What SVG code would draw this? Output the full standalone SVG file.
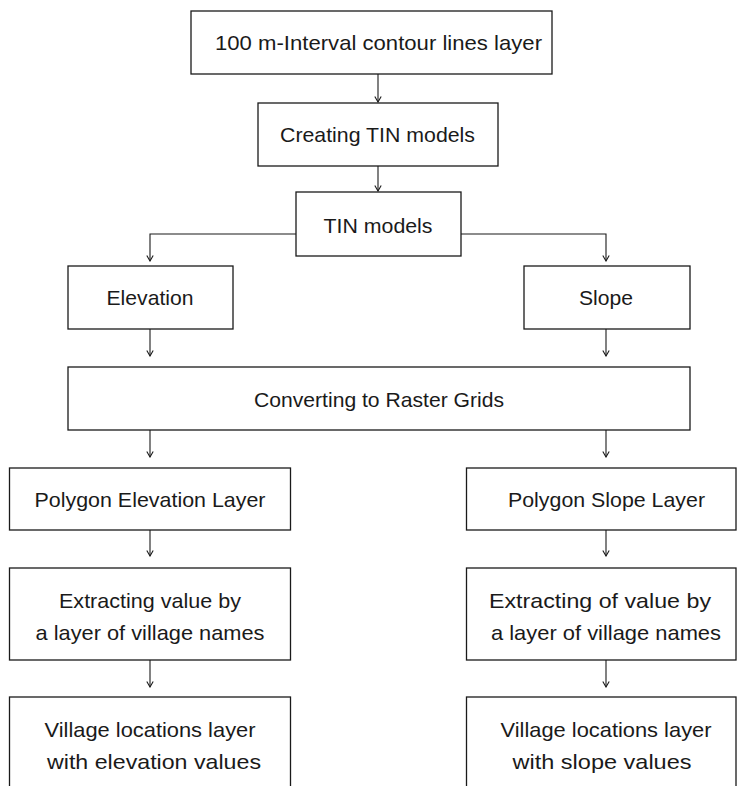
<svg xmlns="http://www.w3.org/2000/svg" width="737" height="786" viewBox="0 0 737 786">
<style>
.box{fill:#fff;stroke:#1a1a1a;stroke-width:1.3}
.t{font-family:"Liberation Sans",Arial,sans-serif;font-size:21px;fill:#1a1a1a;text-anchor:middle}
.c{fill:none;stroke:#1a1a1a;stroke-width:1.1}
</style>
<defs>
<marker id="ah" viewBox="0 0 8 8" refX="7.5" refY="4" markerWidth="8" markerHeight="8" markerUnits="userSpaceOnUse" orient="auto">
<path d="M2,0.8 L7.5,4 L2,7.2" fill="none" stroke="#1a1a1a" stroke-width="1.1"/>
</marker>
</defs>
<rect width="737" height="786" fill="#fff"/>
<g id="connectors">
<path class="c" d="M378,74 V102" marker-end="url(#ah)"/>
<path class="c" d="M378,166 V191" marker-end="url(#ah)"/>
<path class="c" d="M296,234 H150 V261" marker-end="url(#ah)"/>
<path class="c" d="M461,234 H606 V261" marker-end="url(#ah)"/>
<path class="c" d="M150,329 V356" marker-end="url(#ah)"/>
<path class="c" d="M606,329 V356" marker-end="url(#ah)"/>
<path class="c" d="M150,430 V457" marker-end="url(#ah)"/>
<path class="c" d="M606,430 V457" marker-end="url(#ah)"/>
<path class="c" d="M150,530 V556" marker-end="url(#ah)"/>
<path class="c" d="M606,530 V556" marker-end="url(#ah)"/>
<path class="c" d="M150,660 V687" marker-end="url(#ah)"/>
<path class="c" d="M606,660 V687" marker-end="url(#ah)"/>
</g>
<g id="n-contour">
<rect class="box" x="191" y="11" width="361" height="63"/>
<text class="t" x="378.5" y="50" textLength="327" lengthAdjust="spacingAndGlyphs">100 m-Interval contour lines layer</text>
</g>
<g id="n-creating">
<rect class="box" x="258" y="103" width="240" height="63"/>
<text class="t" x="377.5" y="142" textLength="195" lengthAdjust="spacingAndGlyphs">Creating TIN models</text>
</g>
<g id="n-tin">
<rect class="box" x="296" y="192" width="165" height="64"/>
<text class="t" x="378" y="233" textLength="109" lengthAdjust="spacingAndGlyphs">TIN models</text>
</g>
<g id="n-elevation">
<rect class="box" x="68" y="266" width="165" height="63"/>
<text class="t" x="150" y="305" textLength="87" lengthAdjust="spacingAndGlyphs">Elevation</text>
</g>
<g id="n-slope">
<rect class="box" x="524" y="266" width="166" height="63"/>
<text class="t" x="606" y="305" textLength="54" lengthAdjust="spacingAndGlyphs">Slope</text>
</g>
<g id="n-raster">
<rect class="box" x="68" y="367" width="622" height="63"/>
<text class="t" x="379" y="407" textLength="250" lengthAdjust="spacingAndGlyphs">Converting to Raster Grids</text>
</g>
<g id="n-poly-elev">
<rect class="box" x="9.5" y="468" width="281" height="62"/>
<text class="t" x="150" y="507" textLength="231" lengthAdjust="spacingAndGlyphs">Polygon Elevation Layer</text>
</g>
<g id="n-poly-slope">
<rect class="box" x="466.5" y="468" width="269.5" height="62"/>
<text class="t" x="606.5" y="507" textLength="197" lengthAdjust="spacingAndGlyphs">Polygon Slope Layer</text>
</g>
<g id="n-extract-elev">
<rect class="box" x="9.5" y="568" width="281" height="92"/>
<text class="t" x="150" y="608" textLength="182" lengthAdjust="spacingAndGlyphs">Extracting value by</text>
<text class="t" x="150" y="640" textLength="229" lengthAdjust="spacingAndGlyphs">a layer of village names</text>
</g>
<g id="n-extract-slope">
<rect class="box" x="466.5" y="568" width="269.5" height="92"/>
<text class="t" x="600" y="608" textLength="222" lengthAdjust="spacingAndGlyphs">Extracting of value by</text>
<text class="t" x="606" y="640" textLength="230" lengthAdjust="spacingAndGlyphs">a layer of village names</text>
</g>
<g id="n-village-elev">
<rect class="box" x="9.5" y="697" width="281" height="110"/>
<text class="t" x="150" y="737" textLength="211" lengthAdjust="spacingAndGlyphs">Village locations layer</text>
<text class="t" x="154" y="769" textLength="214" lengthAdjust="spacingAndGlyphs">with elevation values</text>
</g>
<g id="n-village-slope">
<rect class="box" x="466.5" y="697" width="269.5" height="110"/>
<text class="t" x="606" y="737" textLength="211" lengthAdjust="spacingAndGlyphs">Village locations layer</text>
<text class="t" x="602" y="769" textLength="179" lengthAdjust="spacingAndGlyphs">with slope values</text>
</g>
</svg>
